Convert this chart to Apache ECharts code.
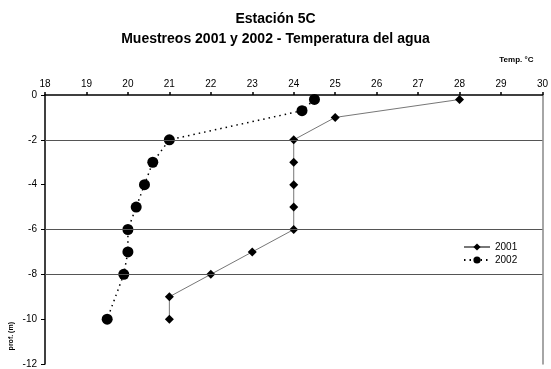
<!DOCTYPE html>
<html><head><meta charset="utf-8">
<script src="https://cdn.jsdelivr.net/npm/echarts@6/dist/echarts.min.js"></script>
<style>html,body{margin:0;padding:0;background:#fff}#c{width:551px;height:369px}</style>
</head><body><div id="c"></div>
<script>
var temps2001 = [28, 25, 24, 24, 24, 24, 24, 23, 22, 21, 21];
var depths2001 = [-0.2, -1, -2, -3, -4, -5, -6, -7, -8, -9, -10];
var temps2002 = [24.5, 24.2, 21, 20.6, 20.4, 20.2, 20, 20, 19.9, 19.5];
var depths2002 = [-0.2, -0.7, -2, -3, -4, -5, -6, -7, -8, -10];
var gridDepths = [-2, -6, -8];
var seriesNames = ['2001', '2002'];

function pairs(xs, ys){ return xs.map(function(x,i){ return [x, ys[i]]; }); }
var F = 'Liberation Sans, Arial, sans-serif';
var chart = echarts.init(document.getElementById('c'));
chart.setOption({
  animation: false,
  backgroundColor: '#fff',
  title: {
    text: 'Estación 5C\nMuestreos 2001 y 2002 - Temperatura del agua',
    left: 'center', top: 4,
    textStyle: { fontFamily: F, fontSize: 14, fontWeight: 'bold', color: '#000', lineHeight: 20 }
  },
  grid: { left: 45, right: 5, top: 95, bottom: 3, containLabel: false },
  legend: {
    orient: 'vertical', left: 458, top: 237, itemGap: 3, itemWidth: 26, itemHeight: 9,
    textStyle: { fontFamily: F, fontSize: 10, color: '#000' },
    data: seriesNames
  },
  xAxis: {
    type: 'value', position: 'top', min: 18, max: 30, interval: 1,
    axisLine: { lineStyle: { color: '#000', width: 1.5 } },
    axisTick: { show: true, inside: false, length: 3, lineStyle: { color: '#000', width: 1.5 } },
    axisLabel: { fontFamily: F, fontSize: 10, color: '#000', margin: 6 },
    splitLine: { show: false },
    name: 'Temp. °C', nameLocation: 'end', nameGap: 0,
    nameTextStyle: { fontFamily: F, fontSize: 8, fontWeight: 'bold', color: '#000', align: 'right', verticalAlign: 'bottom', padding: [0, 9, 31, 0] }
  },
  yAxis: [{
    type: 'value', min: -12, max: 0, interval: 2,
    axisLine: { lineStyle: { color: '#000', width: 1.5 } },
    axisTick: { show: true, length: 4, lineStyle: { color: '#000', width: 1 } },
    axisLabel: { fontFamily: F, fontSize: 10, color: '#000', margin: 8 },
    splitLine: { show: false }
  }, {
    type: 'value', min: -12, max: 0, interval: 2, position: 'right',
    axisLine: { show: true, lineStyle: { color: '#888', width: 1.5 } },
    axisTick: { show: false }, axisLabel: { show: false }, splitLine: { show: false }
  }],
  graphic: [{
    type: 'text', left: 8, top: 322, rotation: Math.PI/2,
    style: { text: 'prof. (m)', fontFamily: F, fontSize: 7, fontWeight: 'bold', fill: '#000' }
  }],
  series: [{
    name: seriesNames[0], type: 'line', data: pairs(temps2001, depths2001),
    symbol: 'diamond', symbolSize: 9, showSymbol: true,
    itemStyle: { color: '#000' },
    lineStyle: { color: '#777', width: 1, type: 'solid' },
    markLine: {
      silent: true, symbol: 'none', label: { show: false },
      lineStyle: { color: '#555', width: 1, type: 'solid' },
      data: gridDepths.map(function(d){ return { yAxis: d }; })
    },
    z: 3
  }, {
    name: seriesNames[1], type: 'line', data: pairs(temps2002, depths2002),
    symbol: 'circle', symbolSize: 11, showSymbol: true,
    itemStyle: { color: '#000' },
    lineStyle: { color: '#000', width: 1.5, type: [1.5, 4] },
    z: 4
  }]
});
</script></body></html>
